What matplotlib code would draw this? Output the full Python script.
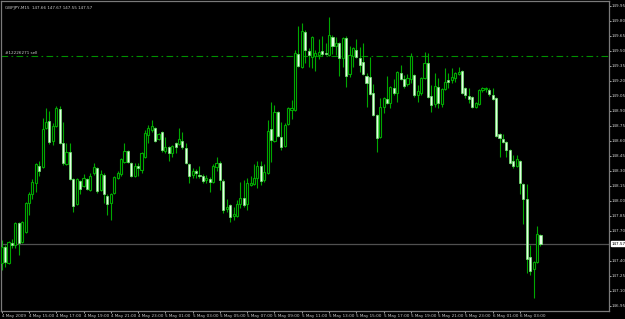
import matplotlib
matplotlib.use("Agg")
import matplotlib.pyplot as plt
import matplotlib.transforms as mtransforms

# GBPJPY M15, 4 May 2009 13:00 onwards
opens = [147.38, 147.54, 147.38, 147.58, 147.56, 147.78, 147.59, 147.69, 147.98, 148.07,
         148.18, 148.35, 148.34, 148.73, 148.80, 148.60, 148.75, 148.92, 148.58, 148.37,
         148.49, 148.22, 147.97, 148.20, 148.15, 148.22, 148.11, 148.28, 148.33, 148.11,
         148.26, 148.05, 147.98, 148.08, 148.23, 148.27, 148.39, 148.50, 148.38, 148.25,
         148.35, 148.31, 148.44, 148.66, 148.71, 148.73, 148.62, 148.69, 148.50, 148.54,
         148.48, 148.58, 148.57, 148.60, 148.53, 148.37, 148.26, 148.30, 148.26, 148.25,
         148.21, 148.22, 148.19, 148.34, 148.38, 148.20, 147.92, 147.96, 147.85, 147.85,
         147.97, 148.03, 147.97, 148.16, 148.17, 148.23, 148.35, 148.21, 148.28, 148.72,
         148.60, 148.89, 148.64, 148.55, 148.77, 148.91, 148.91, 149.47, 149.34, 149.69,
         149.50, 149.44, 149.45, 149.46, 149.50, 149.48, 149.46, 149.64, 149.55, 149.58,
         149.43, 149.63, 149.27, 149.45, 149.51, 149.43, 149.39, 149.25, 149.24, 149.08,
         148.86, 148.64, 148.94, 149.02, 148.98, 149.13, 149.08, 149.28, 149.22, 149.17,
         149.22, 149.26, 149.06, 149.08, 149.23, 149.38, 149.05, 148.97, 149.14, 148.97,
         149.12, 149.21, 149.21, 149.23, 149.27, 149.30, 149.13, 149.05, 149.04, 148.94,
         148.97, 149.11, 149.12, 149.11, 149.06, 149.03, 148.67, 148.62, 148.59, 148.51,
         148.40, 148.35, 148.40, 148.17, 148.02, 147.44, 147.32, 147.39, 147.66]
highs = [147.61, 147.56, 147.60, 147.62, 147.79, 147.79, 147.80, 147.99, 148.09, 148.22,
         148.38, 148.40, 148.83, 148.93, 148.90, 148.78, 148.95, 148.95, 148.79, 148.58,
         148.58, 148.23, 148.23, 148.21, 148.27, 148.23, 148.28, 148.38, 148.34, 148.31,
         148.28, 148.07, 148.08, 148.25, 148.30, 148.43, 148.58, 148.51, 148.39, 148.38,
         148.38, 148.49, 148.71, 148.76, 148.81, 148.74, 148.68, 148.70, 148.64, 148.55,
         148.56, 148.59, 148.73, 148.69, 148.58, 148.38, 148.33, 148.32, 148.35, 148.27,
         148.26, 148.24, 148.37, 148.44, 148.40, 148.22, 148.02, 147.97, 147.94, 148.01,
         148.19, 148.21, 148.23, 148.25, 148.37, 148.40, 148.40, 148.37, 148.81, 148.99,
         148.96, 148.90, 148.79, 148.78, 148.94, 149.01, 149.51, 149.75, 149.78, 149.71,
         149.53, 149.65, 149.51, 149.62, 149.65, 149.58, 149.84, 149.66, 149.64, 149.59,
         149.64, 149.65, 149.55, 149.54, 149.62, 149.54, 149.58, 149.28, 149.44, 149.17,
         148.87, 149.03, 149.04, 149.25, 149.15, 149.22, 149.30, 149.36, 149.26, 149.27,
         149.48, 149.27, 149.16, 149.24, 149.49, 149.48, 149.16, 149.28, 149.23, 149.13,
         149.33, 149.28, 149.33, 149.29, 149.34, 149.31, 149.14, 149.13, 149.05, 148.99,
         149.12, 149.14, 149.14, 149.13, 149.13, 149.04, 148.68, 148.67, 148.60, 148.52,
         148.46, 148.46, 148.41, 148.18, 148.17, 147.56, 147.40, 147.75, 147.67]
lows = [147.31, 147.34, 147.37, 147.53, 147.53, 147.46, 147.58, 147.68, 147.86, 148.02,
        148.09, 148.25, 148.33, 148.72, 148.57, 148.56, 148.74, 148.57, 148.36, 148.36,
        148.21, 147.89, 147.96, 148.07, 148.14, 148.11, 148.10, 148.26, 148.08, 148.10,
        147.98, 147.86, 147.81, 148.07, 148.22, 148.25, 148.38, 148.38, 148.24, 148.24,
        148.25, 148.28, 148.43, 148.58, 148.69, 148.59, 148.61, 148.49, 148.48, 148.40,
        148.44, 148.48, 148.56, 148.52, 148.37, 148.18, 148.23, 148.23, 148.23, 148.18,
        148.18, 148.09, 148.18, 148.30, 148.11, 147.88, 147.89, 147.79, 147.81, 147.84,
        147.93, 147.94, 147.91, 148.15, 148.16, 148.13, 148.16, 148.19, 148.27, 148.39,
        148.59, 148.64, 148.51, 148.54, 148.76, 148.82, 148.90, 149.34, 149.33, 149.38,
        149.34, 149.33, 149.30, 149.42, 149.45, 149.46, 149.45, 149.47, 149.46, 149.25,
        149.34, 149.14, 149.24, 149.34, 149.43, 149.29, 149.26, 148.94, 149.06, 148.85,
        148.49, 148.63, 148.88, 148.97, 148.93, 149.06, 148.99, 149.21, 149.13, 149.15,
        149.18, 149.04, 148.99, 149.06, 149.22, 149.03, 148.89, 148.94, 148.93, 148.94,
        149.11, 149.13, 149.18, 149.19, 149.26, 149.07, 149.03, 148.98, 148.93, 148.93,
        148.96, 149.09, 149.09, 149.05, 149.01, 148.64, 148.44, 148.58, 148.44, 148.37,
        148.33, 148.34, 148.07, 147.77, 147.28, 147.26, 147.03, 147.38, 147.55]
closes = [147.54, 147.39, 147.59, 147.56, 147.78, 147.58, 147.79, 147.98, 148.07, 148.19,
          148.37, 148.30, 148.72, 148.79, 148.59, 148.75, 148.93, 148.58, 148.38, 148.49,
          148.22, 147.95, 148.22, 148.12, 148.23, 148.12, 148.25, 148.34, 148.10, 148.27,
          148.07, 147.97, 148.07, 148.24, 148.28, 148.42, 148.50, 148.39, 148.25, 148.35,
          148.33, 148.48, 148.68, 148.73, 148.75, 148.60, 148.67, 148.51, 148.54, 148.48,
          148.55, 148.54, 148.62, 148.54, 148.38, 148.25, 148.30, 148.28, 148.25, 148.20,
          148.23, 148.19, 148.35, 148.38, 148.21, 147.91, 147.94, 147.84, 147.87, 147.97,
          148.03, 147.96, 148.18, 148.18, 148.23, 148.35, 148.20, 148.29, 148.70, 148.61,
          148.89, 148.65, 148.54, 148.76, 148.93, 148.93, 149.48, 149.35, 149.70, 149.51,
          149.46, 149.64, 149.48, 149.49, 149.47, 149.47, 149.66, 149.55, 149.58, 149.43,
          149.63, 149.25, 149.46, 149.53, 149.44, 149.36, 149.27, 149.18, 149.07, 148.86,
          148.63, 148.94, 149.03, 148.98, 149.14, 149.08, 149.29, 149.22, 149.15, 149.23,
          149.45, 149.06, 149.10, 149.23, 149.38, 149.04, 148.96, 149.15, 148.98, 149.12,
          149.19, 149.19, 149.24, 149.28, 149.29, 149.08, 149.06, 149.02, 148.94, 148.98,
          149.11, 149.13, 149.13, 149.07, 149.02, 148.65, 148.63, 148.59, 148.51, 148.38,
          148.35, 148.42, 148.18, 148.02, 147.42, 147.30, 147.39, 147.67, 147.57]

time_labels = ["4 May 2009", "4 May 15:00", "4 May 17:00", "4 May 19:00", "4 May 21:00",
               "4 May 23:00", "5 May 01:00", "5 May 03:00", "5 May 05:00", "5 May 07:00",
               "5 May 09:00", "5 May 11:00", "5 May 13:00", "5 May 15:00", "5 May 17:00",
               "5 May 19:00", "5 May 21:00", "5 May 23:00", "6 May 01:00", "6 May 03:00"]
bars_per_label = 8

price_ticks = [149.95, 149.80, 149.65, 149.50, 149.35, 149.20, 149.05, 148.90, 148.75,
               148.60, 148.45, 148.30, 148.15, 148.00, 147.85, 147.70, 147.40, 147.25,
               147.10, 146.95]
current_price = 147.57
order_price = 149.45
order_label = "#12226271 sell"
header = "GBPJPY,M15  147.66 147.67 147.55 147.57"

BG = "#000000"
GREEN = "#00a800"
BEAR_FILL = "#e4ffe4"
FG = "#c8c8c8"
FRAME = "#7a7a7a"
FONT = ["Liberation Sans Narrow", "DejaVu Sans"]
FS = 3.0

fig = plt.figure(figsize=(6.25, 3.19), dpi=100, facecolor=BG)
ax = fig.add_axes([0.5 / 625, 1 - 311 / 319, 608.5 / 625, 310 / 319])
ax.set_facecolor(BG)

n = len(opens)
xs = list(range(n))
ax.vlines(xs, lows, highs, color=GREEN, lw=0.8, zorder=2)
for i in range(n):
    o, c = opens[i], closes[i]
    bottom = min(o, c)
    h = max(abs(c - o), 0.008)
    if c >= o:
        ax.bar(i, h, bottom=bottom, width=0.62, color=BG, edgecolor=GREEN, lw=0.8, zorder=3)
    else:
        ax.bar(i, h, bottom=bottom, width=0.62, color=BEAR_FILL, edgecolor="#70e870",
               lw=0.5, zorder=3)

ax.axhline(current_price, color="#505050", lw=0.9, zorder=1)
ax.axhline(order_price, color="#009000", lw=0.8, ls=(0, (6, 3, 1.5, 3)), zorder=1)

ax.set_xlim(-0.35, 178.1)
ax.set_ylim(146.897, 149.997)

for s in ax.spines.values():
    s.set_color(FRAME)
    s.set_linewidth(0.9)

ax.yaxis.tick_right()
ax.set_yticks(price_ticks)
ax.set_yticklabels(["%.2f" % p for p in price_ticks], family=FONT)
ax.set_xticks([k * bars_per_label for k in range(len(time_labels))])
ax.set_xticklabels(time_labels, ha="left", family=FONT)
ax.tick_params(axis="both", colors=FG, labelsize=FS, length=1.5, width=0.6, pad=0.5)

trans = mtransforms.blended_transform_factory(ax.transAxes, ax.transData)
ax.text(1.004, current_price, "%.2f" % current_price, transform=trans, fontsize=FS,
        family=FONT, color="black", va="center", ha="left",
        bbox=dict(boxstyle="square,pad=0.15", fc="white", ec="white"), clip_on=False)

ax.text(0.007, 0.985, header, transform=ax.transAxes, fontsize=FS, family=FONT,
        color=FG, va="top", ha="left")
ax.text(0.007, order_price + 0.012, order_label, transform=trans, fontsize=FS,
        family=FONT, color=FG, va="bottom", ha="left")

fig.savefig("out.png", dpi=100, facecolor=BG)
